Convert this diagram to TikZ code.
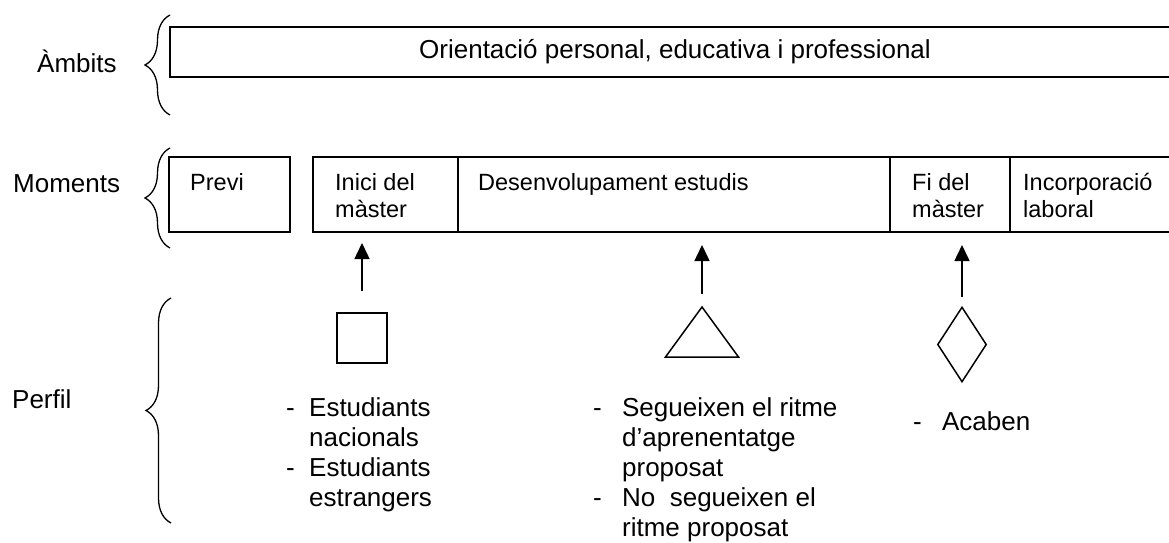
\documentclass[tikz,border=0pt]{standalone}
\usepackage{fontspec}
\setmainfont{Liberation Sans}
\usetikzlibrary{arrows.meta,calc,shapes.geometric,decorations.pathreplacing}

\newcommand\lletragran{\fontsize{26}{30}\selectfont}
\newcommand\lletrapetita{\fontsize{23.5}{27}\selectfont}

\tikzset{
  caixa/.style={draw, line width=1.5pt, anchor=north west, inner sep=0pt, outer sep=0pt},
  etiqueta/.style={font=\lletragran, anchor=base west, inner sep=0pt},
  moment/.style={font=\lletrapetita, anchor=base west, inner sep=0pt},
  clau/.style={decorate, decoration={brace, amplitude=25pt}, line width=1.3pt},
  fletxa/.style={-{Triangle[width=15pt,length=16pt]}, line width=1.5pt},
  figura/.style={draw, line width=1.5pt, inner sep=0pt}
}

\begin{document}
\begin{tikzpicture}[x=1pt, y=-1pt]
\useasboundingbox (0,0) rectangle (1169,543);

% etiquetes i claus
\node[etiqueta] (lambits) at (37,73) {Àmbits};
\node[etiqueta] (lmoments) at (13,192) {Moments};
\node[etiqueta] (lperfil) at (12,408) {Perfil};
\draw[clau] (170,115) -- (170,15);
\draw[clau] (170,248) -- (170,148);
\draw[clau] (171,523) -- (171,298);

% ambits
\node[caixa, minimum width=1010pt, minimum height=50pt, font=\lletragran] (ambit) at (170,27)
  {Orientació personal, educativa i professional};

% moments
\node[caixa, minimum width=121pt, minimum height=75pt] (previ) at (169,157) {};
\node[caixa, minimum width=145pt, minimum height=75pt] (inici) at (313,157) {};
\node[caixa, minimum width=432pt, minimum height=75pt] (desenv) at (458,157) {};
\node[caixa, minimum width=120pt, minimum height=75pt] (fi) at (890,157) {};
\node[caixa, minimum width=175pt, minimum height=75pt] (incorp) at (1010,157) {};

\node[moment] (tprevi) at (190,190) {Previ};
\node[moment] (tinici) at (335,190) {\begin{tabular}[t]{@{}l@{}}Inici del\\màster\end{tabular}};
\node[moment] (tdesenv) at (478,190) {Desenvolupament estudis};
\node[moment] (tfi) at (912,190) {\begin{tabular}[t]{@{}l@{}}Fi del\\màster\end{tabular}};
\node[moment] (tincorp) at (1023,190) {\begin{tabular}[t]{@{}l@{}}Incorporació\\laboral\end{tabular}};

% perfils
\node[figura, rectangle, minimum size=50pt] (quadrat) at (362,338) {};
\coordinate (triangle) at (702,307);
\draw[line width=1.5pt, line join=miter] (triangle) -- ++(36.5,50) -- ++(-73,0) -- cycle;
\node[figura, diamond, minimum width=49pt, minimum height=75pt] (rombe) at (962,344.5) {};

\draw[fletxa, shorten >=11pt] ([yshift=21pt]quadrat.north) -- (quadrat.north |- inici.south);
\draw[fletxa, shorten >=13pt] ([yshift=13pt]triangle) -- (triangle |- desenv.south);
\draw[fletxa, shorten >=13pt] ([yshift=9pt]rombe.north) -- (rombe.north |- fi.south);

\node[etiqueta] (llista1) at (286,416) {\begin{tabular}[t]{@{}l@{\hspace{14.3pt}}l@{}}
-&Estudiants\\ &nacionals\\
-&Estudiants\\ &estrangers\end{tabular}};
\node[etiqueta] (llista2) at (593,416) {\begin{tabular}[t]{@{}l@{\hspace{20.3pt}}l@{}}
-&Segueixen el ritme\\ &d’aprenentatge\\ &proposat\\
-&No\ \ segueixen el\\ &ritme proposat\end{tabular}};
\node[etiqueta] (llista3) at (913,430) {\begin{tabular}[t]{@{}l@{\hspace{20.3pt}}l@{}}
-&Acaben\end{tabular}};
\end{tikzpicture}
\end{document}
